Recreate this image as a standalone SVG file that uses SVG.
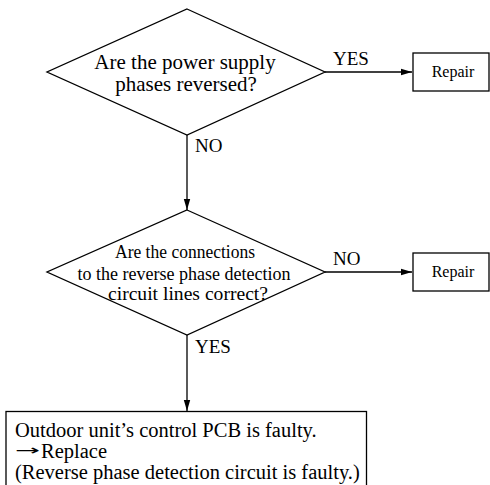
<svg xmlns="http://www.w3.org/2000/svg" width="490" height="485" viewBox="0 0 490 485">
<defs>
<style>
.shape{fill:#fff;stroke:#000;stroke-width:1.3}
.line{fill:none;stroke:#000;stroke-width:1.3}
text{font-family:"Liberation Serif","Times New Roman",serif;fill:#000}
.q{font-size:21px;text-anchor:middle}
.q2{font-size:19.5px;text-anchor:middle}
.lbl{font-size:19px}
.small{font-size:16px;text-anchor:middle}
.body{font-size:20.5px}
.ar{font-family:"DejaVu Sans",sans-serif;font-size:14px}
</style>
<marker id="arr" markerWidth="12" markerHeight="8" refX="11" refY="4" orient="auto" markerUnits="userSpaceOnUse">
<path d="M0,0.8 L11,4 L0,7.2 Z" fill="#000"/>
</marker>
</defs>
<g id="connectors">
<path class="line" d="M325,72 H412" marker-end="url(#arr)"/>
<path class="line" d="M187,135 V210" marker-end="url(#arr)"/>
<path class="line" d="M325,272 H412" marker-end="url(#arr)"/>
<path class="line" d="M187,335 V411" marker-end="url(#arr)"/>
<text class="lbl" x="333" y="65">YES</text>
<text class="lbl" x="195" y="152">NO</text>
<text class="lbl" x="333" y="265">NO</text>
<text class="lbl" x="195" y="353">YES</text>
</g>
<g id="decision1">
<polygon class="shape" points="187,9 325,72 187,135 47,72"/>
<text class="q" x="185" y="69">Are the power supply</text>
<text class="q" x="186" y="91">phases reversed?</text>
</g>
<g id="repair1">
<rect class="shape" x="413" y="53" width="76" height="38"/>
<text class="small" x="453" y="77">Repair</text>
</g>
<g id="decision2">
<polygon class="shape" points="187,210 325,272 187,335 47,272"/>
<text class="q2" x="185" y="258" textLength="140" lengthAdjust="spacingAndGlyphs">Are the connections</text>
<text class="q2" x="184" y="279.5" textLength="213" lengthAdjust="spacingAndGlyphs">to the reverse phase detection</text>
<text class="q2" x="188" y="300" textLength="160" lengthAdjust="spacingAndGlyphs">circuit lines correct?</text>
</g>
<g id="repair2">
<rect class="shape" x="413" y="253" width="76" height="38"/>
<text class="small" x="453" y="277">Repair</text>
</g>
<g id="result">
<rect class="shape" x="6" y="411.5" width="360.5" height="80"/>
<text class="body" x="15" y="437">Outdoor unit’s control PCB is faulty.</text>
<text class="body" x="15" y="458"><tspan class="ar" dy="-3" textLength="25" lengthAdjust="spacingAndGlyphs">→</tspan><tspan x="41" dy="3">Replace</tspan></text>
<text class="body" x="15" y="479">(Reverse phase detection circuit is faulty.)</text>
</g>
</svg>
